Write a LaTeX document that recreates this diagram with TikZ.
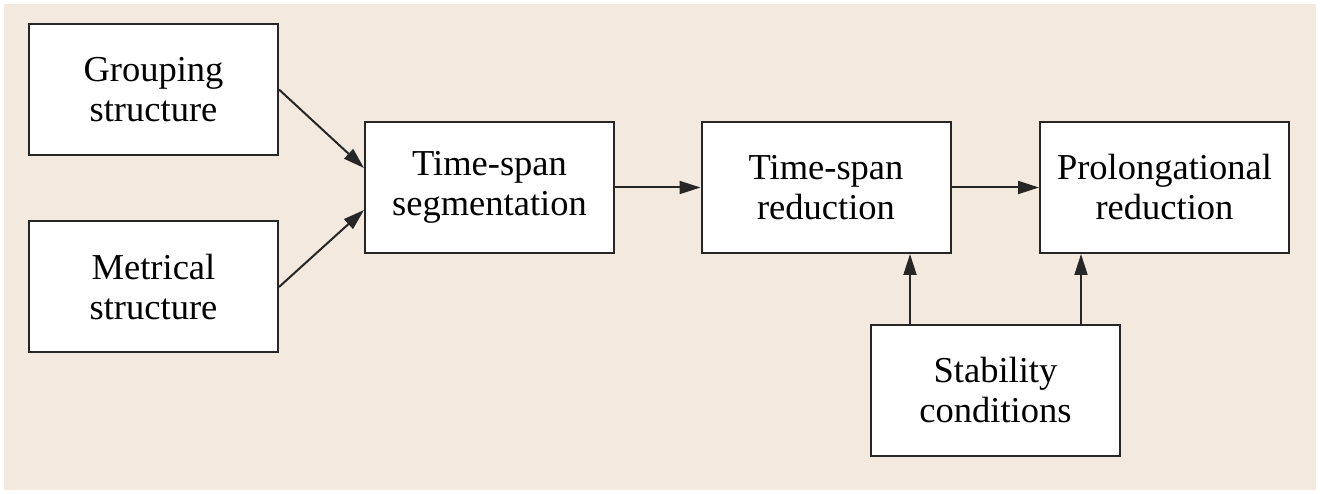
\documentclass[tikz,border=0pt]{standalone}
\usepackage{fontspec}
\setmainfont{Liberation Serif}
\usetikzlibrary{arrows.meta}
\definecolor{panel}{HTML}{F3E9DF}
\begin{document}
\begin{tikzpicture}[x=1pt,y=-1pt,
  stagebox/.style={draw=black!85, line width=2pt, fill=white,
    minimum width=249pt, minimum height=131pt, inner sep=0pt,
    align=center, font=\fontsize{36.5}{40}\selectfont},
  flow/.style={line width=2pt, draw=black!85,
    -{Triangle[length=21pt,width=13pt]}}]
  % page and tinted panel
  \useasboundingbox (0,0) rectangle (1326,494);
  \fill[white] (0,0) rectangle (1326,494);
  \fill[panel] (4,4) rectangle (1316,490);

  % stages
  \node[stagebox] (G) at (153.5,89.5) {Grouping\\structure};
  \node[stagebox] (M) at (153.5,287) {Metrical\\structure};
  \node[stagebox] (S) at (489.5,187.5) {Time-span\\segmentation};
  \node[stagebox] (R) at (826,187.5) {Time-span\\reduction};
  \node[stagebox] (P) at (1164.5,187.5) {Prolongational\\reduction};
  \node[stagebox] (C) at (995.5,390.5) {Stability\\conditions};

  % connectors
  \draw[flow] (G.east) -- ([yshift=19.5pt]S.west);
  \draw[flow] (M.east) -- ([yshift=-22.5pt]S.west);
  \draw[flow] (S.east) -- (R.west);
  \draw[flow] (R.east) -- (P.west);
  \draw[flow] ([xshift=-85.5pt]C.north) -- ([xshift=-85.5pt]C.north |- R.south);
  \draw[flow] ([xshift=85.5pt]C.north) -- ([xshift=85.5pt]C.north |- P.south);
\end{tikzpicture}
\end{document}
